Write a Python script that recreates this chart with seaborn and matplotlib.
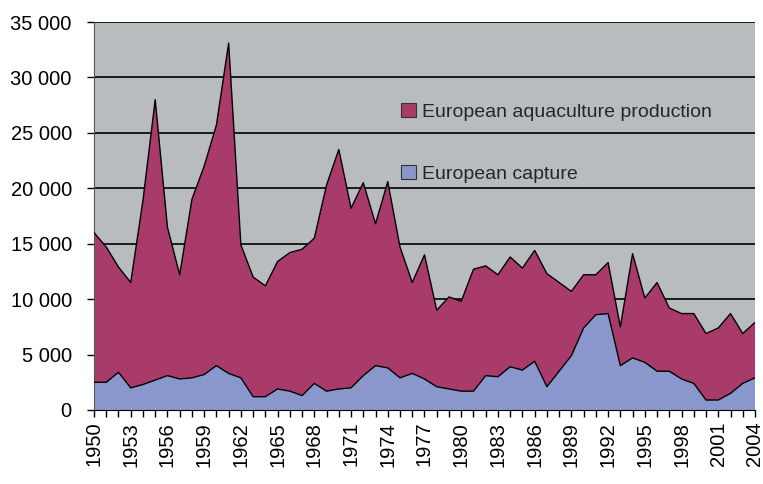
import matplotlib
matplotlib.use("Agg")
import matplotlib.pyplot as plt
from matplotlib.patches import Patch
from matplotlib.ticker import FuncFormatter, FixedLocator
import seaborn as sns
import numpy as np
import pandas as pd

years = list(range(1950, 2005))
capture = [2500, 2500, 3400, 2000, 2300, 2700, 3100, 2800, 2900, 3200,
           4000, 3300, 2900, 1200, 1200, 1900, 1700, 1300, 2400, 1700,
           1900, 2000, 3100, 4000, 3800, 2900, 3300, 2800, 2100, 1900,
           1700, 1700, 3100, 3000, 3900, 3600, 4400, 2100, 3500, 4900,
           7400, 8600, 8700, 4000, 4700, 4300, 3500, 3500, 2800, 2400,
           900, 900, 1500, 2400, 2900]
aquaculture = [13500, 12200, 9500, 9500, 16600, 25300, 13400, 9400, 16100, 18800,
               21700, 29800, 12000, 10800, 10000, 11500, 12500, 13200, 13100, 18600,
               21600, 16200, 17400, 12800, 16800, 11800, 8200, 11200, 6900, 8300,
               8100, 11000, 9900, 9200, 9900, 9200, 10000, 10200, 8000, 5800,
               4800, 3600, 4600, 3500, 9400, 5800, 8000, 5700, 5900, 6300,
               6000, 6500, 7200, 4500, 5000]
labels = ["European aquaculture production", "European capture"]
colors = {"European aquaculture production": "#a93b6b", "European capture": "#8a97cc"}

df = pd.DataFrame({"year": years, "capture": capture, "aquaculture": aquaculture})
df["total"] = df["capture"] + df["aquaculture"]

sns.set_style("ticks", {"axes.facecolor": "#b9bcbe"})
plt.rcParams["font.family"] = ["Liberation Sans", "DejaVu Sans"]

fig, ax = plt.subplots(figsize=(7.63, 4.84), dpi=100)
fig.subplots_adjust(left=0.1232, right=0.9895, top=0.9545, bottom=0.1529)

ax.set_axisbelow(True)
ax.grid(axis="y", color="black", lw=1.2)

ax.stackplot(df["year"], df["capture"], df["aquaculture"],
             colors=[colors["European capture"], colors["European aquaculture production"]],
             edgecolor="none", zorder=2)
sns.lineplot(data=df, x="year", y="capture", color="black", lw=1, ax=ax, zorder=3)
sns.lineplot(data=df, x="year", y="total", color="black", lw=1, ax=ax, zorder=3)

ax.set_xlim(1950, 2004)
ax.set_ylim(0, 35000)
ax.yaxis.set_major_locator(FixedLocator(range(0, 35001, 5000)))
ax.yaxis.set_major_formatter(FuncFormatter(lambda v, p: f"{int(v):,}".replace(",", " ")))
ax.set_xticks(years, minor=True)
ax.set_xticks(years[::3])
ax.set_xticklabels([str(y) for y in years[::3]], rotation=90)
ax.tick_params(axis="x", which="both", length=5, width=1, color="black")
ax.tick_params(axis="y", length=5, width=1, color="#444444", pad=11)
ax.tick_params(labelsize=14.5, colors="black")
ax.set_xlabel("")
ax.set_ylabel("")

for s in ["top", "right"]:
    ax.spines[s].set_visible(False)
ax.spines["left"].set_color("#555555")
ax.spines["bottom"].set_color("black")

handles = [Patch(facecolor=colors[l], edgecolor="#333333", lw=0.8) for l in labels]
ax.legend(handles, labels, loc="upper left", bbox_to_anchor=(401 / 763, 1 - 103 / 484),
          bbox_transform=fig.transFigure, frameon=False, fontsize=14,
          handlelength=0.75, handleheight=0.75, handletextpad=0.35,
          labelspacing=2.25, borderpad=0, borderaxespad=0)

fig.savefig("out.png", dpi=100)
